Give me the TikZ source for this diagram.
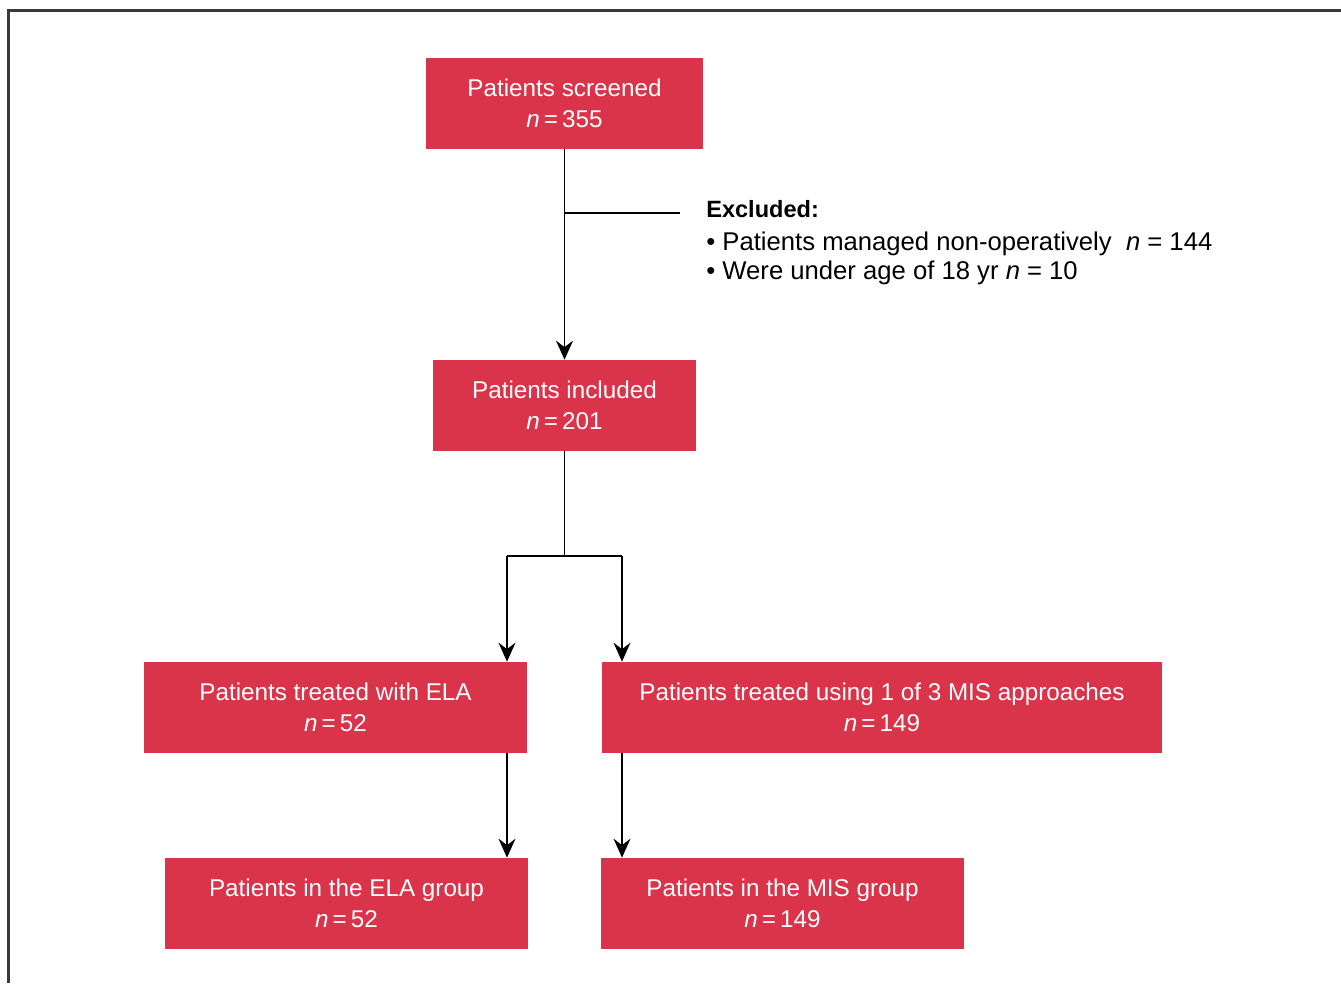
\documentclass[tikz,border=0pt]{standalone}
\usepackage{fontspec}
\setmainfont{Liberation Sans}
\usetikzlibrary{arrows.meta}
\definecolor{boxred}{HTML}{D93449}
\definecolor{framegray}{HTML}{3A3A3A}
\tikzset{%
	box/.style={fill=boxred, text=white, align=center, minimum height=1.82cm,
		inner sep=0pt, font=\fontsize{13.8}{18}\selectfont},
	link/.style={line width=0.85pt, -{Stealth[length=0.38cm, width=0.34cm, inset=0.13cm]}}
}
\begin{document}
\begin{tikzpicture}[x=0.02cm, y=-0.02cm]
	\useasboundingbox (0,0) rectangle (1341,983);
	\draw [framegray, line width=1.2pt] (8.5,983) -- (8.5,10.5) -- (1341,10.5);
	\node [box, minimum width=5.54cm] (screened) at (564.5,103.5) {Patients screened\\\textit{n}\,=\,355};
	\node [box, minimum width=5.26cm] (included) at (564.5,405.5) {Patients included\\\textit{n}\,=\,201};
	\node [box, minimum width=7.66cm] (elatreat) at (335.5,707.5) {Patients treated with ELA\\\textit{n}\,=\,52};
	\node [box, minimum width=11.2cm] (mistreat) at (882,707.5) {Patients treated using 1 of 3 MIS approaches\\\textit{n}\,=\,149};
	\node [box, minimum width=7.26cm] (elagroup) at (346.5,903.5) {Patients in the ELA group\\\textit{n}\,=\,52};
	\node [box, minimum width=7.26cm] (misgroup) at (782.5,903.5) {Patients in the MIS group\\\textit{n}\,=\,149};
	\node [anchor=north west, align=left, inner sep=0pt,
		font=\fontsize{14.6}{16.4}\selectfont] (excluded) at (706,200)
		{{\fontsize{13.4}{16}\selectfont\textbf{Excluded:}}\\[2.5pt]
		\textbullet{} Patients managed non-operatively \ \textit{n} = 144\\
		\textbullet{} Were under age of 18 yr \textit{n} = 10};
	\coordinate (exc) at (680,213);
	\coordinate (split) at (564.5,556);
	\coordinate (la) at (507,556);
	\coordinate (ra) at (622,556);
	\draw [link] (screened) -- (included);
	\draw [line width=0.85pt] (screened.south |- exc) -- (exc);
	\draw [line width=0.85pt] (included) -- (split);
	\draw [line width=0.85pt] (la) -- (ra);
	\draw [link] (la) -- (la |- elatreat.north);
	\draw [link] (ra) -- (ra |- mistreat.north);
	\draw [link] (la |- elatreat.south) -- (la |- elagroup.north);
	\draw [link] (ra |- mistreat.south) -- (ra |- misgroup.north);
\end{tikzpicture}
\end{document}
